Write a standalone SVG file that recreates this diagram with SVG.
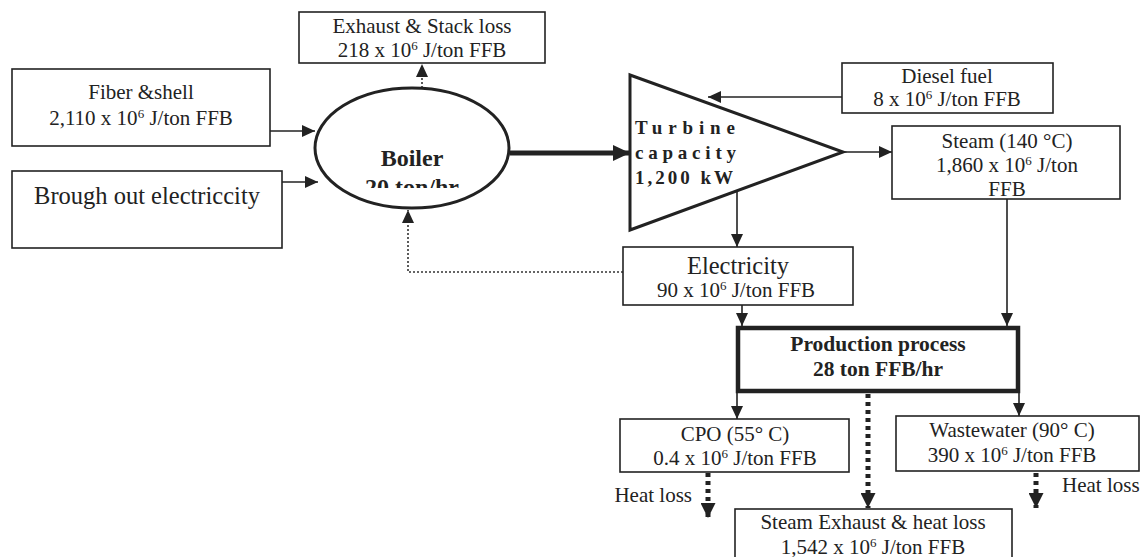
<svg xmlns="http://www.w3.org/2000/svg" width="1141" height="557" viewBox="0 0 1141 557">
<style>
.box{fill:#fff;stroke:#222;stroke-width:1.6}
.t{font-family:"Liberation Serif","Times New Roman",serif;font-size:21px;fill:#222;text-anchor:middle}
.b{font-weight:bold}
.ln{fill:none;stroke:#222;stroke-width:1.6}
.thin-dot{fill:none;stroke:#333;stroke-width:1.6;stroke-dasharray:2,2}
.thick-dot{fill:none;stroke:#222;stroke-width:5;stroke-dasharray:4,4}
</style>
<defs>
<marker id="ah" markerUnits="userSpaceOnUse" markerWidth="13" markerHeight="12" refX="13" refY="6" orient="auto"><path d="M0,0 L13,6 L0,12 z" fill="#222"/></marker>
<marker id="ahBig" markerUnits="userSpaceOnUse" markerWidth="17" markerHeight="16" refX="17" refY="8" orient="auto"><path d="M0,0 L17,8 L0,16 z" fill="#222"/></marker>
<marker id="ahDot" markerUnits="userSpaceOnUse" markerWidth="15" markerHeight="15" refX="15" refY="7.5" orient="auto"><path d="M0,0 L15,7.5 L0,15 z" fill="#222"/></marker>
<clipPath id="boilerClip"><rect x="300" y="0" width="230" height="188"/></clipPath>
</defs>

<g id="connectors">
<line class="ln" x1="270" y1="131" x2="315" y2="131" marker-end="url(#ah)"/>
<line class="ln" x1="282" y1="182" x2="318" y2="182" marker-end="url(#ah)"/>
<line class="thin-dot" x1="422" y1="88" x2="422" y2="64" marker-end="url(#ah)"/>
<line fill="none" stroke="#222" stroke-width="5" x1="510" y1="153" x2="630" y2="153" marker-end="url(#ahBig)"/>
<line class="ln" x1="842" y1="97" x2="708" y2="97" marker-end="url(#ah)"/>
<line class="ln" x1="843" y1="152" x2="892" y2="152" marker-end="url(#ah)"/>
<line class="ln" x1="737" y1="191" x2="737" y2="247" marker-end="url(#ah)"/>
<polyline class="thin-dot" points="623,272 408,272 408,210" marker-end="url(#ah)"/>
<line class="ln" x1="742" y1="298" x2="742" y2="326" marker-end="url(#ah)"/>
<line class="ln" x1="1007" y1="199" x2="1007" y2="326" marker-end="url(#ah)"/>
<line class="ln" x1="737" y1="392" x2="737" y2="419" marker-end="url(#ah)"/>
<line class="ln" x1="1019" y1="392" x2="1019" y2="416" marker-end="url(#ah)"/>
<line class="thick-dot" x1="868" y1="394" x2="868" y2="508" marker-end="url(#ahDot)"/>
<line class="thick-dot" x1="708" y1="473" x2="708" y2="518" marker-end="url(#ahDot)"/>
<line class="thick-dot" x1="1036" y1="473" x2="1036" y2="508" marker-end="url(#ahDot)"/>
</g>

<g id="exhaust">
<rect class="box" x="299" y="12" width="246" height="51"/>
<text class="t" x="422" y="33">Exhaust &amp; Stack loss</text>
<text class="t" x="422" y="57">218 x 10<tspan dy="-7" font-size="13">6</tspan><tspan dy="7"> J/ton FFB</tspan></text>
</g>

<g id="fiber">
<rect class="box" x="12" y="69" width="258" height="77"/>
<text class="t" x="141" y="99">Fiber &amp;shell</text>
<text class="t" x="141" y="125">2,110 x 10<tspan dy="-7" font-size="13">6</tspan><tspan dy="7"> J/ton FFB</tspan></text>
</g>

<g id="brough">
<rect class="box" x="12" y="171" width="270" height="77"/>
<text class="t" x="147" y="204" style="font-size:24.5px">Brough out electriccity</text>
</g>

<g id="boiler">
<ellipse cx="412" cy="148" rx="97" ry="60" fill="#fff" stroke="#222" stroke-width="3"/>
<text class="t b" x="412" y="166" style="font-size:24px">Boiler</text>
<text class="t b" x="412" y="195" style="font-size:24px" clip-path="url(#boilerClip)">20 ton/hr</text>
</g>

<g id="turbine">
<polygon points="630,75 843,152 630,230" fill="#fff" stroke="#222" stroke-width="3"/>
<g font-family="'Liberation Serif','Times New Roman',serif" font-weight="bold" font-size="19" fill="#222">
<text x="635" y="134" textLength="100" lengthAdjust="spacing">Turbine</text>
<text x="635" y="159" textLength="101" lengthAdjust="spacing">capacity</text>
<text x="635" y="184" textLength="98" lengthAdjust="spacing">1,200  kW</text>
</g>
</g>

<g id="diesel">
<rect class="box" x="842" y="63" width="211" height="50"/>
<text class="t" x="947" y="83">Diesel fuel</text>
<text class="t" x="947" y="106">8 x 10<tspan dy="-7" font-size="13">6</tspan><tspan dy="7"> J/ton FFB</tspan></text>
</g>

<g id="steam">
<rect class="box" x="892" y="126" width="228" height="73"/>
<text class="t" x="1007" y="148">Steam (140 °C)</text>
<text class="t" x="1007" y="172">1,860 x 10<tspan dy="-7" font-size="13">6</tspan><tspan dy="7"> J/ton</tspan></text>
<text class="t" x="1007" y="196">FFB</text>
</g>

<g id="electricity">
<rect class="box" x="623" y="247" width="230" height="58"/>
<text class="t" x="738" y="274" style="font-size:24.5px">Electricity</text>
<text class="t" x="736" y="297">90 x 10<tspan dy="-7" font-size="13">6</tspan><tspan dy="7"> J/ton FFB</tspan></text>
</g>

<g id="production">
<rect x="738" y="328" width="280" height="63" fill="#fff" stroke="#222" stroke-width="4.5"/>
<text class="t b" x="878" y="351" style="font-size:21.5px">Production process</text>
<text class="t b" x="878" y="376" style="font-size:21.5px">28 ton FFB/hr</text>
</g>

<g id="cpo">
<rect class="box" x="620" y="419" width="229" height="53"/>
<text class="t" x="735" y="441">CPO (55° C)</text>
<text class="t" x="735" y="465">0.4 x 10<tspan dy="-7" font-size="13">6</tspan><tspan dy="7"> J/ton FFB</tspan></text>
</g>

<g id="wastewater">
<rect class="box" x="896" y="416" width="243" height="55"/>
<text class="t" x="1012" y="437">Wastewater (90° C)</text>
<text class="t" x="1012" y="462">390 x 10<tspan dy="-7" font-size="13">6</tspan><tspan dy="7"> J/ton FFB</tspan></text>
</g>

<g id="steam-exhaust">
<rect class="box" x="735" y="509" width="277" height="60"/>
<text class="t" x="873" y="529">Steam Exhaust &amp; heat loss</text>
<text class="t" x="873" y="554">1,542 x 10<tspan dy="-7" font-size="13">6</tspan><tspan dy="7"> J/ton FFB</tspan></text>
</g>

<g id="heat-loss-labels">
<text class="t" x="692" y="502" style="text-anchor:end">Heat loss</text>
<text class="t" x="1062" y="492" style="text-anchor:start">Heat loss</text>
</g>
</svg>
